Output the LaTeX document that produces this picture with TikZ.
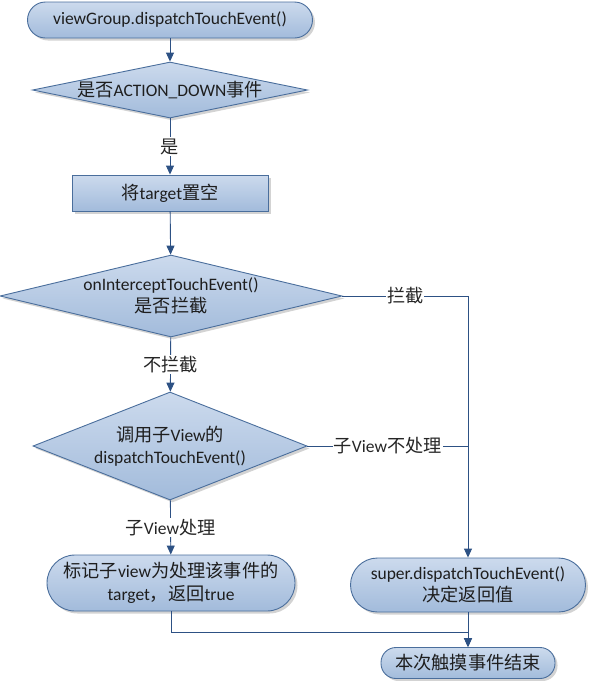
\documentclass[tikz,border=0pt]{standalone}
\usepackage{fontspec}
\setmainfont{Carlito}
\newfontfamily\cjk{Noto Sans CJK SC}[Scale=1.04]
\newcommand{\zh}[1]{{\cjk #1}}
\usepackage{xcolor}
\usepackage{tikz}
\usetikzlibrary{shapes.geometric, shadows, arrows.meta}

\definecolor{boxtop}{HTML}{CCDAED}
\definecolor{boxbottom}{HTML}{A2BBDB}
\definecolor{boxline}{HTML}{4A6E9C}
\definecolor{flowline}{HTML}{2D5184}
\definecolor{boxtext}{HTML}{1E1E1E}

\tikzset{
    box/.style={draw=boxline, line width=0.9pt, top color=boxtop, bottom color=boxbottom,
        text=boxtext, align=center, inner sep=0pt,
        drop shadow={shadow xshift=2.5pt, shadow yshift=-2.5pt, opacity=0.35}},
    term/.style={box, rounded corners=#1},
    decide/.style={box, diamond},
    flow/.style={draw=flowline, line width=0.9pt, -{Triangle[width=8pt, length=9pt]}},
    link/.style={draw=flowline, line width=0.9pt},
    tag/.style={fill=white, inner sep=1pt, text=black!85}
}

\begin{document}
\begin{tikzpicture}[x=1pt, y=-1pt, font=\fontsize{17.5}{22.5}\selectfont]
    \useasboundingbox (0,0) rectangle (590,681);

    % main column
    \node[term=18pt, minimum width=285pt, minimum height=36pt] (start) at (170,20) {viewGroup.dispatchTouchEvent()};
    \node[decide, aspect=4.9, minimum width=275pt, minimum height=56pt] (isdown) at (170,90) {\zh{是否}ACTION\_DOWN\zh{事件}};
    \node[box, minimum width=196pt, minimum height=36pt] (clear) at (170,193) {\zh{将}target\zh{置空}};
    \node[decide, aspect=4.17, minimum width=342pt, minimum height=82pt] (intercept) at (171,296) {onInterceptTouchEvent()\\\zh{是否拦截}};
    \node[decide, aspect=2.54, minimum width=274pt, minimum height=108pt] (dispatch) at (170,446) {\zh{调用子}View\zh{的}\\dispatchTouchEvent()};
    \node[term=28pt, minimum width=248pt, minimum height=56pt] (mark) at (171,583) {\zh{标记子}view\zh{为处理该事件的}\\target\zh{，返回}true};

    % right column
    \node[term=27pt, minimum width=235pt, minimum height=54pt] (super) at (468,585) {super.dispatchTouchEvent()\\\zh{决定返回值}};
    \node[term=15pt, minimum width=174pt, minimum height=31pt] (finish) at (468,663) {\zh{本次触摸事件结束}};

    % connectors
    \draw[flow] (start) -- (isdown);
    \draw[flow] (isdown) -- node[tag] {\zh{是}} (clear);
    \draw[flow] (clear) -- (intercept);
    \draw[flow] (intercept) -- node[tag] {\zh{不拦截}} (dispatch);
    \draw[flow] (dispatch) -- node[tag] {\zh{子}View\zh{处理}} (mark);
    \draw[flow] (intercept.east) -- node[tag] {\zh{拦截}} (super.north |- intercept.east) -- (super.north);
    \draw[link] (dispatch.east) -- node[tag] {\zh{子}View\zh{不处理}} (super.north |- dispatch.east);
    \draw[flow] (mark.south) -- ++(0,21) -| (finish.north);
    \draw[flow] (super) -- (finish);
\end{tikzpicture}
\end{document}
